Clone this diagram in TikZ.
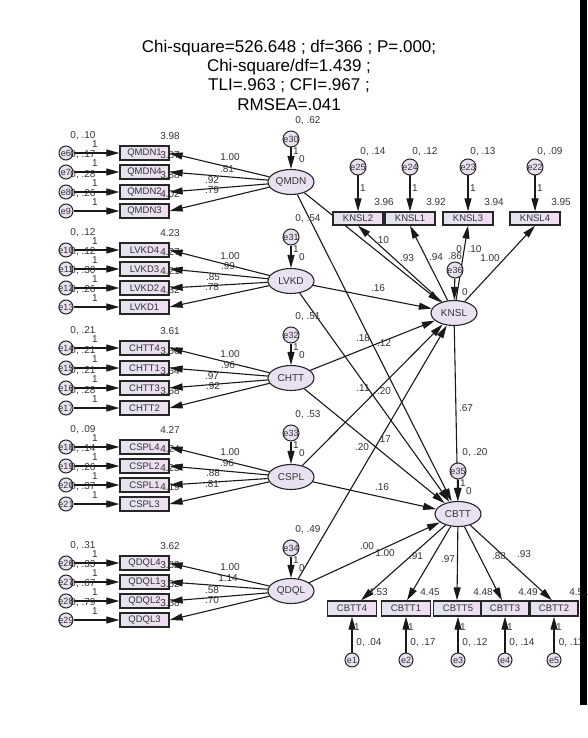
\documentclass[tikz,border=0pt]{standalone}
\usepackage{fontspec}
\setmainfont{Liberation Sans}
\usetikzlibrary{arrows.meta,shapes.geometric,calc}
\definecolor{lav}{HTML}{E9E0F2}
\definecolor{boxl}{HTML}{E0E5EF}
\definecolor{boxr}{HTML}{F2DCF2}
\definecolor{ink}{HTML}{333333}
\begin{document}
\begin{tikzpicture}[x=1pt,y=-1pt,
  lbl/.style={font=\fontsize{10}{11}\selectfont, text=ink, inner sep=0pt},
  ttl/.style={font=\fontsize{17}{19}\selectfont, text=black, inner sep=0pt},
  obs/.style={draw=black!85, line width=1.3pt, left color=boxl, right color=boxr, minimum width=49pt, minimum height=14pt, inner sep=0pt, font=\fontsize{9.5}{10}\selectfont, text=ink},
  lat/.style={ellipse, draw=black!85, line width=1.1pt, fill=lav, minimum width=46pt, minimum height=25pt, inner sep=0pt, font=\fontsize{10}{11}\selectfont, text=ink},
  err/.style={circle, draw=black!85, line width=1pt, fill=lav, minimum size=14pt, inner sep=0pt, font=\fontsize{9}{9}\selectfont, text=ink},
  errL/.style={err, minimum size=16pt},
  arr/.style={-{Triangle[length=13pt,width=7pt]}, line width=1.1pt, draw=black!90}
]
\useasboundingbox (0,0) rectangle (587,738);
\fill[white] (0,0) rectangle (587,738);

% title
\node[ttl] (t1) at (289,48) {Chi-square=526.648 ; df=366 ; P=.000;};
\node[ttl] (t2) at (289,67) {Chi-square/df=1.439 ;};
\node[ttl] (t3) at (289,86) {TLI=.963 ; CFI=.967 ;};
\node[ttl] (t4) at (289,105) {RMSEA=.041};

% latent variables
\node[lat] (QMDN) at (291,182) {QMDN};
\node[lat] (LVKD) at (291,281) {LVKD};
\node[lat] (CHTT) at (291,378) {CHTT};
\node[lat] (CSPL) at (291,477) {CSPL};
\node[lat] (QDQL) at (291,591) {QDQL};
\node[lat] (KNSL) at (454,313) {KNSL};
\node[lat] (CBTT) at (458,514) {CBTT};

% left measurement blocks
\foreach \b/\e/\y/\v/\m in {
  QMDN1/e6/153/.10/3.98, QMDN4/e7/172/.17/3.87, QMDN2/e8/192/.28/3.88, QMDN3/e9/211/.26/4.02,
  LVKD4/e10/250/.12/4.23, LVKD3/e11/269/.12/4.27, LVKD2/e12/288/.30/4.21, LVKD1/e13/307/.26/4.32,
  CHTT4/e14/348/.21/3.61, CHTT1/e15/368/.21/3.56, CHTT3/e16/388/.21/3.54, CHTT2/e17/408/.28/3.58,
  CSPL4/e18/447/.09/4.27, CSPL2/e19/466/.14/4.24, CSPL1/e20/485/.26/4.23, CSPL3/e21/504/.37/4.19,
  QDQL4/e26/563/.31/3.62, QDQL1/e27/582/.33/3.62, QDQL2/e28/601/.67/3.52, QDQL3/e29/620/.79/3.58}{
  \node[lbl] at (83,\y-17) {0, \v};
  \node[obs] (\b) at (144.5,\y) {\b};
  \node[lbl] at (170,\y-17) {\m};
  \node[err] (\e) at (66,\y) {\makebox[0pt]{\e}};
  \draw[arr] (\e) -- (\b);
  \node[lbl] at (95,\y-9) {1};
}

% loadings of left blocks
\foreach \l/\b in {QMDN/QMDN1, QMDN/QMDN4, QMDN/QMDN2, QMDN/QMDN3,
  LVKD/LVKD4, LVKD/LVKD3, LVKD/LVKD2, LVKD/LVKD1,
  CHTT/CHTT4, CHTT/CHTT1, CHTT/CHTT3, CHTT/CHTT2,
  CSPL/CSPL4, CSPL/CSPL2, CSPL/CSPL1, CSPL/CSPL3,
  QDQL/QDQL4, QDQL/QDQL1, QDQL/QDQL2, QDQL/QDQL3}{
  \draw[arr] (\l) -- (\b.east);
}
\foreach \px/\py/\t in {230/157/1.00, 227/169/.81, 212/180/.92, 212/190/.79,
  230/256/1.00, 228/266/.99, 213/277/.85, 212/287/.78,
  230/354/1.00, 228/365/.96, 212/376/.97, 213/386/.92,
  230/452/1.00, 227/463/.96, 213/473/.88, 212/484/.81,
  230/567/1.00, 228/578/1.14, 212/590/.58, 212/600/.70}{
  \node[lbl] at (\px,\py) {\t};
}

% structural paths
\draw[arr] (QMDN) -- (KNSL);
\draw[arr] (LVKD) -- (KNSL);
\draw[arr] (CHTT) -- (KNSL);
\draw[arr] (CSPL) -- (KNSL);
\draw[arr] (QDQL) -- (KNSL);
\draw[arr] (QMDN) -- (CBTT);
\draw[arr] (LVKD) -- (CBTT);
\draw[arr] (CHTT) -- (CBTT);
\draw[arr] (CSPL) -- (CBTT);
\draw[arr] (QDQL) -- (CBTT);
\draw[arr] (KNSL) -- (CBTT);
\foreach \px/\py/\t in {382/240/.10, 378/288/.16, 363/338/.18, 384/343/.12,
  363/388/.11, 384/391/.20, 362/447/.20, 384/439/.17, 382/487/.16, 367/546/.00, 466/408/.67}{
  \node[lbl] at (\px,\py) {\t};
}

% residuals of latent variables
\foreach \e/\t/\ex/\ey/\v in {e30/QMDN/291/139/.62, e31/LVKD/291/237/.54, e32/CHTT/291/335/.51,
  e33/CSPL/291/433/.53, e34/QDQL/291/548/.49, e35/CBTT/458/471/.20}{
  \node[lbl] at (\ex+17,\ey-18) {0, \v};
  \node[errL] (\e) at (\ex,\ey) {\makebox[0pt]{\e}};
  \draw[arr] (\e) -- (\t);
  \node[lbl] at (\ex+5,\ey+12) {1};
  \node[lbl] at (\ex+11,\ey+20) {0};
}

% KNSL indicators
\foreach \b/\e/\bx/\v/\m in {KNSL2/e25/358/.14/3.96, KNSL1/e24/410/.12/3.92,
  KNSL3/e23/468/.13/3.94, KNSL4/e22/535/.09/3.95}{
  \node[lbl] at (\bx+15,152) {0, \v};
  \node[obs, minimum width=50pt, minimum height=13pt] (\b) at (\bx,218.5) {\b};
  \node[lbl] at (\bx+26,202) {\m};
  \node[errL] (\e) at (\bx,167) {\makebox[0pt]{\e}};
  \draw[arr] (\e) -- (\b);
  \node[lbl] at (\bx+5,188) {1};
  \draw[arr] (KNSL) -- (\b.south);
}
\foreach \px/\py/\t in {407/258/.93, 436/257/.94, 455/256/.86, 490/258/1.00}{
  \node[lbl] at (\px,\py) {\t};
}
\node[lbl] at (469,250) {0, .10};
\node[errL] (e36) at (455,270) {\makebox[0pt]{e36}};
\draw[arr] (e36) -- (KNSL);
\node[lbl] at (465,292) {0};

% CBTT indicators
\foreach \b/\e/\bx/\w/\v/\m/\sh/\mx in {CBTT4/e1/352/49/.04/4.53/9/378, CBTT1/e2/406/49/.17/4.45/1/430,
  CBTT5/e3/458/49/.12/4.48/-1/483, CBTT3/e4/505/48/.14/4.49/-3/528, CBTT2/e5/554/48/.11/4.51/-2/579}{
  \node[obs, minimum width=\w pt, minimum height=15pt] (\b) at (\bx,608.5) {\b};
  \node[lbl] at (\mx,592) {\m};
  \node[lbl] at (\bx+17,643) {0, \v};
  \node[err] (\e) at (\bx,660) {\makebox[0pt]{\e}};
  \draw[arr] (\e) -- (\b);
  \node[lbl] at (\bx+5,627) {1};
  \draw[arr] (CBTT) -- ([xshift=\sh]\b.north);
}
\foreach \px/\py/\t in {385/553/1.00, 416/556/.91, 448/559/.97, 499/556/.88, 524/554/.93}{
  \node[lbl] at (\px,\py) {\t};
}

% dark border strip at the right edge
\fill[black] (580,0) rectangle (587,705);
\end{tikzpicture}
\end{document}
